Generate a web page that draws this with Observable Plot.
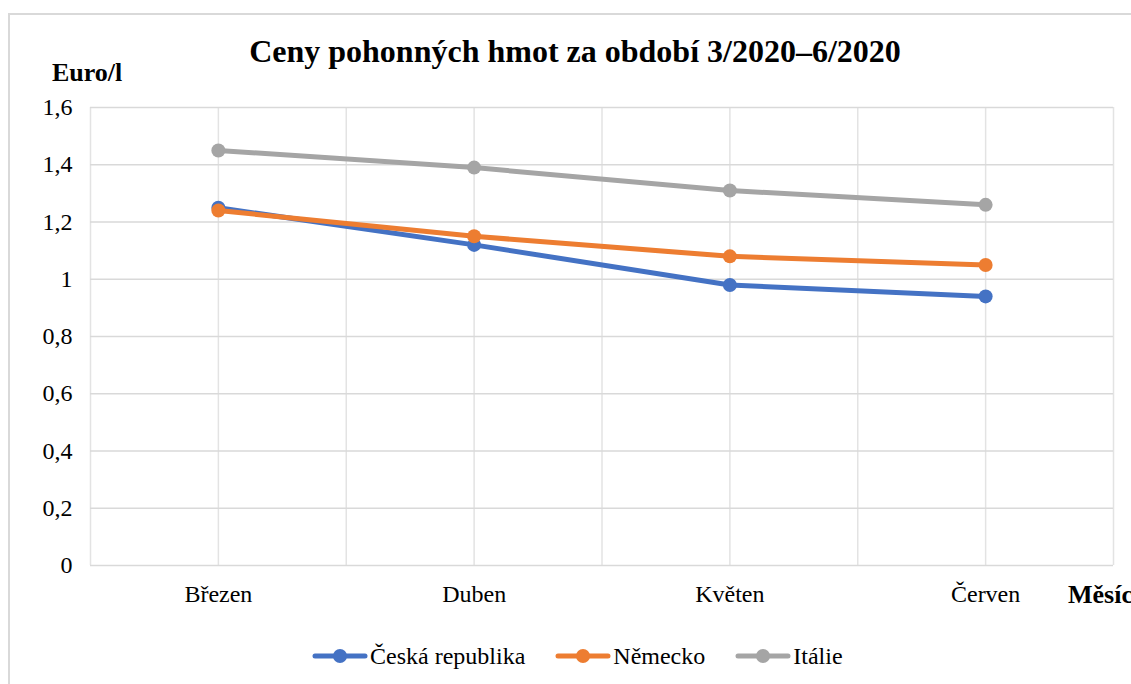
<!DOCTYPE html>
<html>
<head>
<meta charset="utf-8">
<script src="https://cdn.jsdelivr.net/npm/d3@7"></script>
<script src="https://cdn.jsdelivr.net/npm/@observablehq/plot@0.6"></script>
<style>
  html, body { margin: 0; padding: 0; background: #fff; overflow: hidden; }
  body { width: 1131px; height: 684px; position: relative; font-family: "Liberation Serif", "Times New Roman", serif; color: #000; }
  #frame { position: absolute; left: 8px; top: 13px; width: 1300px; height: 900px; border-left: 2px solid #d9d9d9; border-top: 2px solid #d9d9d9; }
  #chart { position: absolute; left: 0; top: 0; }
  .title { position: absolute; left: 0; width: 1150px; top: 33px; text-align: center; font-weight: bold; font-size: 32px; line-height: 36px; white-space: nowrap; }
  .ylab { position: absolute; left: 52px; top: 58px; font-weight: bold; font-size: 26px; line-height: 30px; }
  .xlab { position: absolute; left: 1068px; top: 580px; font-weight: bold; font-size: 26px; line-height: 30px; white-space: nowrap; }
  #legend { position: absolute; left: 312px; top: 642px; display: flex; align-items: center; font-size: 24px; line-height: 28px; font-family: "Liberation Serif", "Times New Roman", serif; }
  .item { display: flex; align-items: center; margin-right: 30px; }
  .item svg { margin-right: 2px; }
</style>
</head>
<body>
<div id="frame"></div>
<div id="chart"></div>
<div class="title">Ceny pohonných hmot za období 3/2020–6/2020</div>
<div class="ylab">Euro/l</div>
<div class="xlab">Měsíc</div>
<div id="legend"></div>
<script>
const months = ["Březen", "Duben", "Květen", "Červen"];
const seriesNames = ["Česká republika", "Německo", "Itálie"];
const seriesColors = ["#4472C4", "#ED7D31", "#A5A5A5"];
const ceskaRepublika = [1.25, 1.12, 0.98, 0.94];
const nemecko = [1.24, 1.15, 1.08, 1.05];
const italie = [1.45, 1.39, 1.31, 1.26];
const yTicks = [0, 0.2, 0.4, 0.6, 0.8, 1, 1.2, 1.4, 1.6];

const allSeries = [ceskaRepublika, nemecko, italie];
const rows = allSeries.map((vals, s) => vals.map((v, i) => ({series: seriesNames[s], i, v})));

const halfTicks = d3.range(-0.5, months.length - 0.5 + 0.001, 0.5);
const serif = '"Liberation Serif", "Times New Roman", serif';

const marks = [
  Plot.gridX({ticks: halfTicks, stroke: "#e3e3e3", strokeOpacity: 1, strokeWidth: 1.5}),
  Plot.gridY({ticks: yTicks, stroke: "#d9d9d9", strokeOpacity: 1, strokeWidth: 1.5}),
  Plot.axisX({ticks: d3.range(months.length), tickFormat: i => months[i], tickSize: 0, tickPadding: 19, fontSize: 24, fontFamily: serif, label: null}),
  Plot.axisY({ticks: yTicks, tickFormat: d => String(d).replace(".", ","), tickSize: 0, tickPadding: 18, fontSize: 24, fontFamily: serif, label: null})
];
rows.forEach((r, s) => {
  marks.push(Plot.line(r, {x: "i", y: "v", stroke: seriesColors[s], strokeWidth: 5, strokeLinecap: "round", strokeLinejoin: "round"}));
  marks.push(Plot.dot(r, {x: "i", y: "v", r: 7, fill: seriesColors[s], stroke: "none"}));
});

const chart = Plot.plot({
  width: 1131,
  height: 684,
  marginLeft: 90,
  marginRight: 18,
  marginTop: 107,
  marginBottom: 119,
  style: {fontFamily: serif, fontSize: "24px", color: "#000", background: "transparent"},
  x: {domain: [-0.5, months.length - 0.5], axis: null},
  y: {domain: [0, 1.6], axis: null},
  marks
});
document.getElementById("chart").appendChild(chart);

const legend = document.getElementById("legend");
seriesNames.forEach((name, s) => {
  const item = document.createElement("div");
  item.className = "item";
  item.innerHTML = `<svg width="56" height="16"><line x1="3" x2="53" y1="8" y2="8" stroke="${seriesColors[s]}" stroke-width="5" stroke-linecap="round"/><circle cx="28" cy="8" r="7" fill="${seriesColors[s]}"/></svg><span>${name}</span>`;
  legend.appendChild(item);
});
</script>
</body>
</html>
